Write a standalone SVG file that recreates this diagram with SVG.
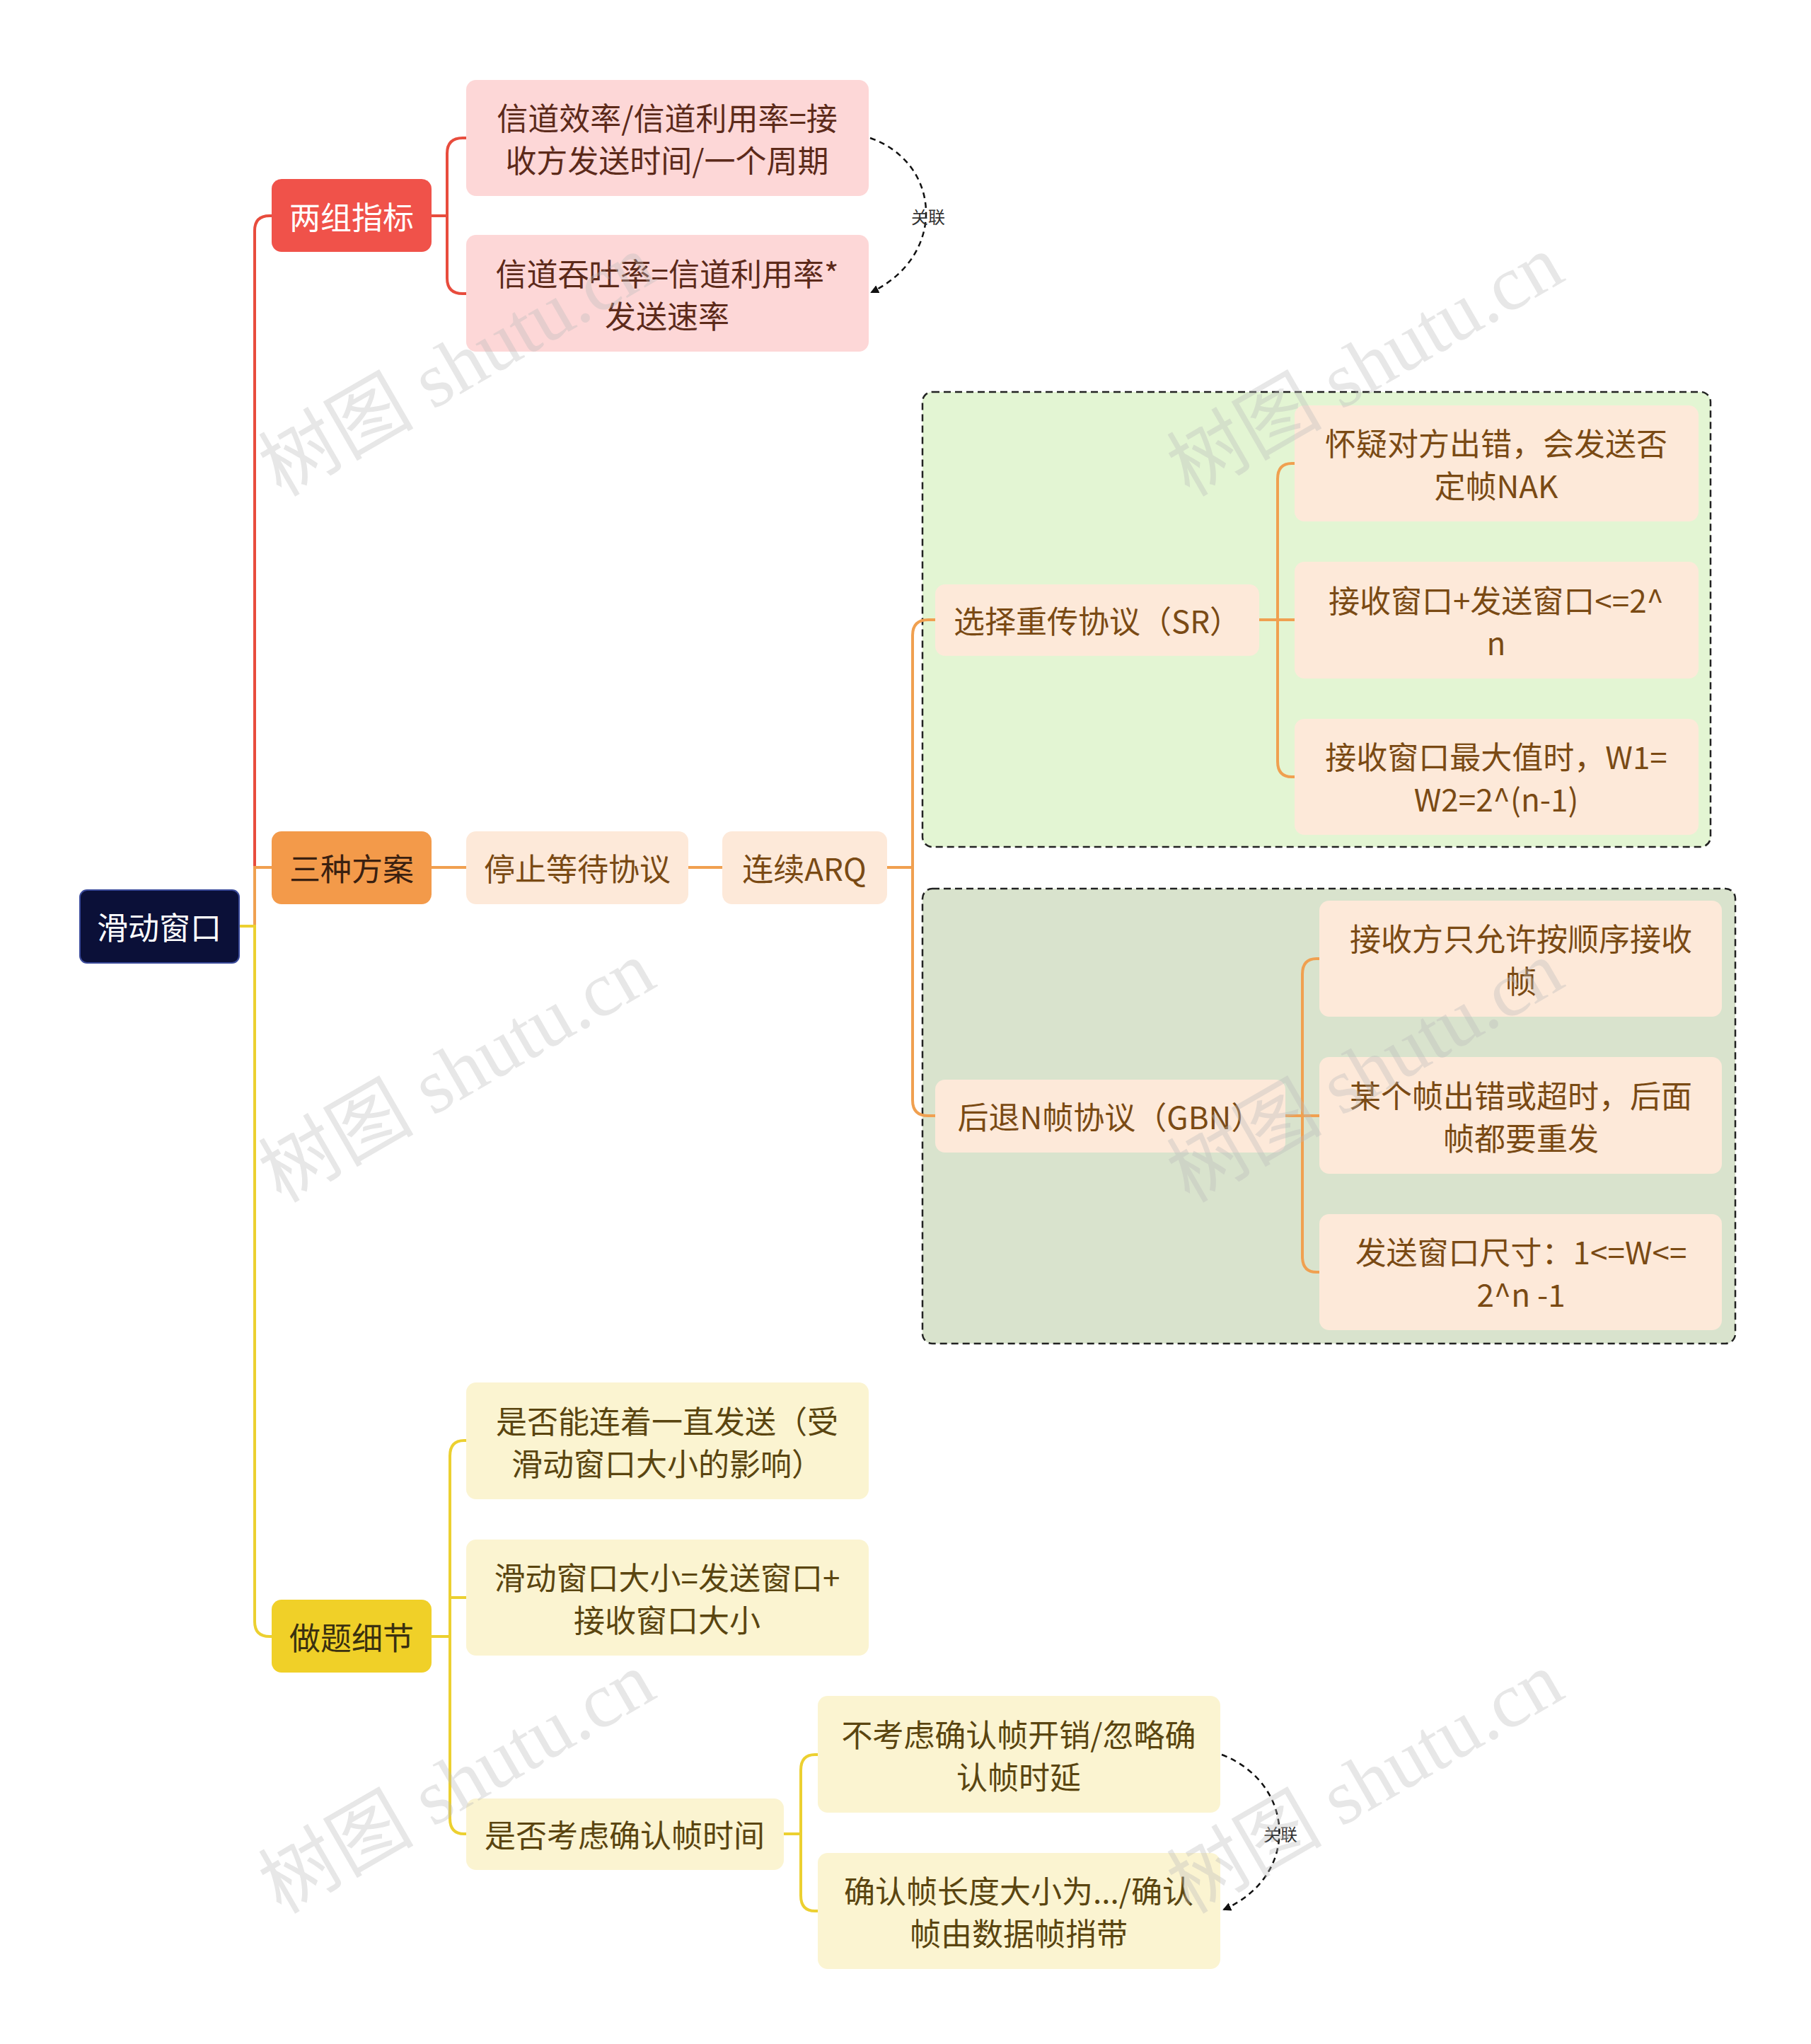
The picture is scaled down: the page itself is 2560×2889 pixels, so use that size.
<svg xmlns="http://www.w3.org/2000/svg" width="2560" height="2889" viewBox="0 0 2560 2889">
<style>
text{font-family:"Noto Sans CJK SC","Noto Sans",sans-serif;font-size:44px;text-anchor:middle;dominant-baseline:central}
.r{fill:#fdd7d7}.o{fill:#fde9d9}.y{fill:#fbf4d1}
.tr{fill:#5c2a1a}.to{fill:#7a4a14}.ty{fill:#5a4510}
.lr{stroke:#e84c3d;stroke-width:4;fill:none}.lo{stroke:#f0a050;stroke-width:4;fill:none}.ly{stroke:#ecd030;stroke-width:4;fill:none}
.rel{stroke:#111;stroke-width:2.5;fill:none;stroke-dasharray:8 6}
.wm{fill:#bbb;opacity:.35;font-size:110px;font-family:"Liberation Serif","Noto Sans CJK SC",serif}
</style>
<defs><marker id="ah" markerWidth="12" markerHeight="12" refX="10" refY="6" orient="auto" markerUnits="userSpaceOnUse"><path d="M0,0 L12,6 L0,12 z" fill="#111"/></marker></defs>
<rect width="2560" height="2889" fill="#fff"/>
<rect x="1304" y="554" width="1114" height="643" rx="14" fill="#e3f5d3" stroke="#222" stroke-width="2.5" stroke-dasharray="10 6"/>
<rect x="1304" y="1256" width="1149" height="643" rx="14" fill="#d9e3cd" stroke="#222" stroke-width="2.5" stroke-dasharray="10 6"/>
<g id="connectors">
<path class="lr" d="M338,1309 H360 V326 Q360,305 381,305 H384"/>
<path class="lo" d="M338,1309 H360 V1226 H384"/>
<path class="ly" d="M338,1309 H360 V2292 Q360,2313 381,2313 H384"/>
<path class="lr" d="M610,305 H632 M659,195 H654 Q632,195 632,217 V393 Q632,415 654,415 H659"/>
<path class="lo" d="M610,1226 H659 M973,1226 H1021 M1254,1226 H1290 M1322,876 H1312 Q1290,876 1290,898 V1555 Q1290,1577 1312,1577 H1322"/>
<path class="lo" d="M1780,876 H1830 M1830,655 H1826 Q1806,655 1806,677 V1076 Q1806,1098 1826,1098 H1830"/>
<path class="lo" d="M1817,1577 H1865 M1865,1355 H1861 Q1841,1355 1841,1377 V1776 Q1841,1798 1861,1798 H1865"/>
<path class="ly" d="M610,2313 H636 M659,2036 H656 Q636,2036 636,2058 V2570 Q636,2592 656,2592 H659 M636,2258 H659"/>
<path class="ly" d="M1108,2592 H1132 M1156,2480 H1152 Q1132,2480 1132,2502 V2679 Q1132,2701 1152,2701 H1156"/>
<path class="rel" d="M1230,195 C1330,230 1340,360 1232,413" marker-end="url(#ah)"/>
<text x="1312" y="305" style="font-size:24px;fill:#333">关联</text>
<path class="rel" d="M1727,2480 C1830,2520 1840,2650 1730,2699" marker-end="url(#ah)"/>
<text x="1810" y="2591" style="font-size:24px;fill:#333">关联</text>
</g>
<g id="root"><rect x="113" y="1258" width="225" height="103" rx="10" fill="#0b1038" stroke="#3a4a9a" stroke-width="2"/><text x="225" y="1309" fill="#fff">滑动窗口</text></g>
<g id="n1"><rect x="384" y="253" width="226" height="103" rx="14" fill="#f0524a"/><text x="497" y="305" fill="#fff">两组指标</text></g>
<g id="n2"><rect x="384" y="1175" width="226" height="103" rx="14" fill="#f39a4a"/><text x="497" y="1226" fill="#3a2010">三种方案</text></g>
<g id="n3"><rect x="384" y="2261" width="226" height="103" rx="14" fill="#f0d028"/><text x="497" y="2313" fill="#3a3010">做题细节</text></g>
<g id="n1a"><rect class="r" x="659" y="113" width="569" height="164" rx="14"/><text class="tr" x="943" y="165">信道效率/信道利用率=接</text><text class="tr" x="943" y="225">收方发送时间/一个周期</text></g>
<g id="n1b"><rect class="r" x="659" y="332" width="569" height="165" rx="14"/><text class="tr" x="943" y="385">信道吞吐率=信道利用率*</text><text class="tr" x="943" y="445">发送速率</text></g>
<g id="n2a"><rect class="o" x="659" y="1175" width="314" height="103" rx="14"/><text class="to" x="816" y="1226">停止等待协议</text></g>
<g id="n2b"><rect class="o" x="1021" y="1175" width="233" height="103" rx="14"/><text class="to" x="1137" y="1226">连续ARQ</text></g>
<g id="sr"><rect class="o" x="1322" y="826" width="458" height="101" rx="14"/><text class="to" x="1551" y="876">选择重传协议（SR）</text></g>
<g id="sr1"><rect class="o" x="1830" y="573" width="571" height="164" rx="14"/><text class="to" x="2115" y="625">怀疑对方出错，会发送否</text><text class="to" x="2115" y="685">定帧NAK</text></g>
<g id="sr2"><rect class="o" x="1830" y="794" width="571" height="165" rx="14"/><text class="to" x="2115" y="847">接收窗口+发送窗口&lt;=2^</text><text class="to" x="2115" y="907">n</text></g>
<g id="sr3"><rect class="o" x="1830" y="1016" width="571" height="164" rx="14"/><text class="to" x="2115" y="1068">接收窗口最大值时，W1=</text><text class="to" x="2115" y="1128">W2=2^(n-1)</text></g>
<g id="gbn"><rect class="o" x="1322" y="1526" width="495" height="103" rx="14"/><text class="to" x="1569" y="1577">后退N帧协议（GBN）</text></g>
<g id="g1"><rect class="o" x="1865" y="1273" width="569" height="164" rx="14"/><text class="to" x="2150" y="1325">接收方只允许按顺序接收</text><text class="to" x="2150" y="1385">帧</text></g>
<g id="g2"><rect class="o" x="1865" y="1494" width="569" height="165" rx="14"/><text class="to" x="2150" y="1547">某个帧出错或超时，后面</text><text class="to" x="2150" y="1607">帧都要重发</text></g>
<g id="g3"><rect class="o" x="1865" y="1716" width="569" height="164" rx="14"/><text class="to" x="2150" y="1768">发送窗口尺寸：1&lt;=W&lt;=</text><text class="to" x="2150" y="1828">2^n -1</text></g>
<g id="y1"><rect class="y" x="659" y="1954" width="569" height="165" rx="14"/><text class="ty" x="943" y="2007">是否能连着一直发送（受</text><text class="ty" x="943" y="2067">滑动窗口大小的影响）</text></g>
<g id="y2"><rect class="y" x="659" y="2176" width="569" height="164" rx="14"/><text class="ty" x="943" y="2228">滑动窗口大小=发送窗口+</text><text class="ty" x="943" y="2288">接收窗口大小</text></g>
<g id="y3"><rect class="y" x="659" y="2542" width="449" height="101" rx="14"/><text class="ty" x="883" y="2592">是否考虑确认帧时间</text></g>
<g id="y3a"><rect class="y" x="1156" y="2397" width="569" height="165" rx="14"/><text class="ty" x="1440" y="2450">不考虑确认帧开销/忽略确</text><text class="ty" x="1440" y="2510">认帧时延</text></g>
<g id="y3b"><rect class="y" x="1156" y="2619" width="569" height="164" rx="14"/><text class="ty" x="1440" y="2671">确认帧长度大小为.../确认</text><text class="ty" x="1440" y="2731">帧由数据帧捎带</text></g>
<g id="watermarks">
<text class="wm" transform="translate(646,517) rotate(-30)">树图 shutu.cn</text>
<text class="wm" transform="translate(646,1515) rotate(-30)">树图 shutu.cn</text>
<text class="wm" transform="translate(646,2520) rotate(-30)">树图 shutu.cn</text>
<text class="wm" transform="translate(1930,517) rotate(-30)">树图 shutu.cn</text>
<text class="wm" transform="translate(1930,1515) rotate(-30)">树图 shutu.cn</text>
<text class="wm" transform="translate(1930,2520) rotate(-30)">树图 shutu.cn</text>
</g>
</svg>
